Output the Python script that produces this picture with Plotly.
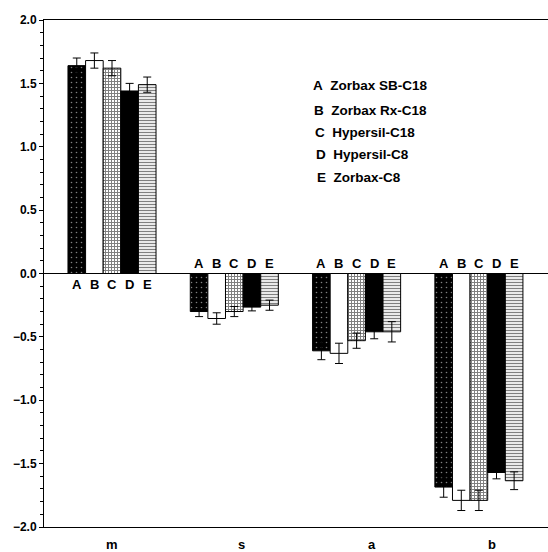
import plotly.graph_objects as go

params = ["m", "s", "a", "b"]
columns = ["A", "B", "C", "D", "E"]
column_names = ["Zorbax SB-C18", "Zorbax Rx-C18", "Hypersil-C18", "Hypersil-C8", "Zorbax-C8"]

val_A = [1.64, -0.30, -0.61, -1.685]
val_B = [1.68, -0.355, -0.63, -1.79]
val_C = [1.62, -0.30, -0.53, -1.79]
val_D = [1.44, -0.265, -0.46, -1.57]
val_E = [1.49, -0.25, -0.46, -1.635]

err_A = [0.06, 0.04, 0.07, 0.08]
err_B = [0.06, 0.045, 0.08, 0.08]
err_C = [0.06, 0.04, 0.06, 0.08]
err_D = [0.06, 0.03, 0.055, 0.05]
err_E = [0.06, 0.04, 0.08, 0.07]

values = [val_A, val_B, val_C, val_D, val_E]
errors = [err_A, err_B, err_C, err_D, err_E]

styles = [
    dict(color="black", pattern=dict(shape=".", bgcolor="black", fgcolor="white", size=5, solidity=0.08)),
    dict(color="white"),
    dict(color="white", pattern=dict(shape="+", bgcolor="white", fgcolor="black", size=3, solidity=0.55)),
    dict(color="black"),
    dict(color="white", pattern=dict(shape="-", bgcolor="white", fgcolor="black", size=3, solidity=0.45)),
]

FONT = "Liberation Sans, Arial, sans-serif"

fig = go.Figure()
for i, col in enumerate(columns):
    fig.add_trace(go.Bar(
        x=params, y=values[i], name=column_names[i],
        marker=dict(**styles[i], line=dict(color="black", width=1)),
        error_y=dict(type="data", array=errors[i], color="black", thickness=1, width=4),
        showlegend=False,
    ))

bargap = 0.28
slot = (1 - bargap) / len(columns)
annotations = []
for g, p in enumerate(params):
    positive = values[0][g] > 0
    for i, col in enumerate(columns):
        annotations.append(dict(
            x=g + (i - 2) * slot, y=0, xref="x", yref="y",
            text=col, showarrow=False,
            yshift=-11 if positive else 10,
            font=dict(family=FONT, size=13, color="black", weight="bold"),
        ))

# category labels under the axis (slightly offset as in the original)
label_shift = [0, 7, 15, 13]
for g, p in enumerate(params):
    annotations.append(dict(
        x=g, y=0, xref="x", yref="paper", yanchor="top", yshift=-8,
        xshift=label_shift[g], text=p, showarrow=False,
        font=dict(family=FONT, size=13, color="black", weight="bold"),
    ))

legend_y = [1.48, 1.285, 1.11, 0.935, 0.755]
for i, col in enumerate(columns):
    annotations.append(dict(
        x=0.53, y=legend_y[i], xref="paper", yref="y", xanchor="left",
        xshift=i * 1.0,
        text=col + "&nbsp;&nbsp;" + column_names[i], showarrow=False,
        font=dict(family=FONT, size=13.5, color="black", weight="bold"),
    ))

fig.update_layout(
    width=548, height=552,
    margin=dict(l=44, r=0, t=20, b=25),
    paper_bgcolor="white", plot_bgcolor="white",
    barmode="group", bargap=bargap, bargroupgap=0,
    annotations=annotations,
    font=dict(family=FONT, color="black"),
)
fig.update_xaxes(
    showline=True, mirror=True, linecolor="black", linewidth=1,
    ticks="", showgrid=False, showticklabels=False,
    range=[-0.556, 3.565],
)
fig.update_yaxes(
    range=[-2.0, 2.0], dtick=0.5, tickformat=".1f",
    showline=True, linecolor="black", linewidth=1,
    ticks="outside", ticklen=4, tickcolor="black",
    minor=dict(dtick=0.1, ticks="outside", ticklen=3, tickcolor="black"),
    showgrid=False, zeroline=True, zerolinecolor="black", zerolinewidth=1,
    tickfont=dict(family=FONT, size=12, color="black", weight="bold"),
)

fig.write_html("out.html")
